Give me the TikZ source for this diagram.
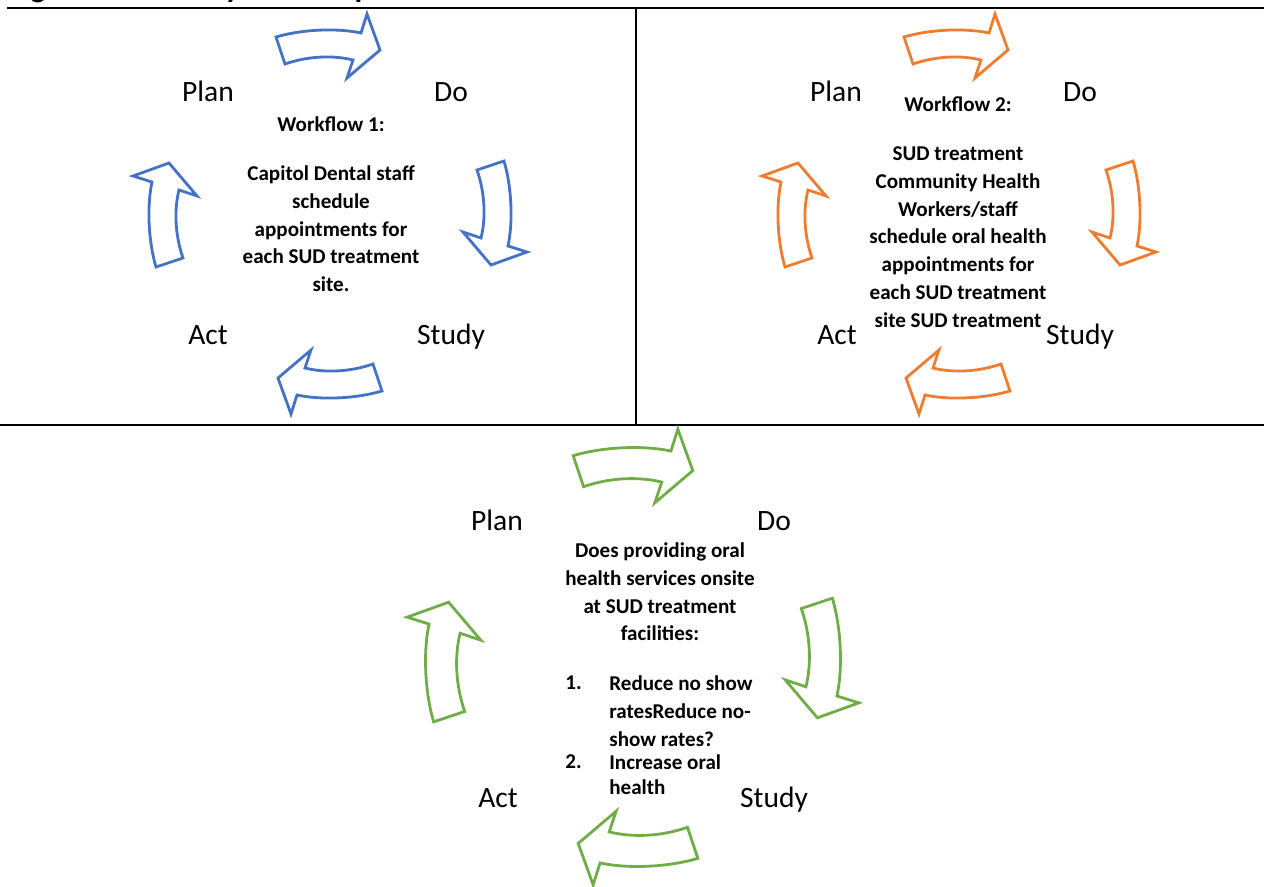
\documentclass[tikz,border=0pt]{standalone}
\usepackage{fontspec}
\setmainfont{Carlito}
\usepackage{tikz}
\usetikzlibrary{positioning}

\definecolor{wfblue}{HTML}{4472C4}
\definecolor{wforange}{HTML}{ED7D31}
\definecolor{wfgreen}{HTML}{70AD47}

% curved block arrow, pointing right, drawn round (0,0)
\tikzset{
	cyclearrow/.pic = {
		\draw[pic actions] (-52,-9) .. controls (-25,-17) and (10,-18) .. (33,-13)
			-- (39,-32) -- (52,4) -- (19,32) -- (25,14)
			.. controls (5,9) and (-20,10) .. (-43,18) -- cycle;
	}
}

\begin{document}
\begin{tikzpicture}
		[x=0.02cm, y=-0.02cm,
		stage/.style	= {font=\fontsize{16.8}{20}\selectfont, inner sep=0pt, anchor=base},
		aim/.style	= {font=\bfseries\fontsize{12}{15.9}\selectfont, align=center, inner sep=0pt, anchor=north},
		item/.style	= {font=\bfseries\fontsize{12}{15.9}\selectfont, align=left, inner sep=0pt, anchor=north west},
		cyc/.style	= {draw=#1, line width=1.6pt, line join=miter},
		gridline/.style	= {line width=1.1pt}]
		
		\useasboundingbox (0,0) rectangle (1264,886);
		
		% caption, cut by the top edge
		\begin{scope}
		\clip (0,0) rectangle (1264,886);
		\node at (8,-3) [anchor=base west, inner sep=0pt, font=\bfseries\fontsize{18}{22}\selectfont] (cap) {Figure 1: PDSA Cycle Example};
		\end{scope}
		
		% table rules
		\draw [gridline] (7,8) -- (1264,8);
		\draw [gridline] (636,8) -- (636,425);
		\draw [gridline] (0,425) -- (1264,425);
		
		% workflow 1
		\pic [cyc=wfblue]			(p1a) at (328,46)	{cyclearrow};
		\pic [cyc=wfblue, rotate=-90]	(p1b) at (495,213)	{cyclearrow};
		\pic [cyc=wfblue, rotate=180]	(p1c) at (330,382)	{cyclearrow};
		\pic [cyc=wfblue, rotate=90]	(p1d) at (165,215)	{cyclearrow};
		
		\node at (208,101)	[stage]	(plan1)		{Plan};
		\node at (451,101)	[stage]	(do1)		{Do};
		\node at (208,344)	[stage]	(act1)		{Act};
		\node at (451,344)	[stage]	(study1)	{Study};
		
		\node at (331,116)	[aim]	(wf1)	{Workflow 1:\\[12pt]
			Capitol Dental staff\\ schedule\\ appointments for\\ each SUD treatment\\ site.};
		
		% workflow 2
		\pic [cyc=wforange]			(p2a) at (956,46)	{cyclearrow};
		\pic [cyc=wforange, rotate=-90]	(p2b) at (1124,213)	{cyclearrow};
		\pic [cyc=wforange, rotate=180]	(p2c) at (958,382)	{cyclearrow};
		\pic [cyc=wforange, rotate=90]	(p2d) at (794,215)	{cyclearrow};
		
		\node at (836,101)	[stage]	(plan2)		{Plan};
		\node at (1080,101)	[stage]	(do2)		{Do};
		\node at (837,344)	[stage]	(act2)		{Act};
		\node at (1080,344)	[stage]	(study2)	{Study};
		
		\node at (958,96)	[aim]	(wf2)	{Workflow 2:\\[12pt]
			SUD treatment\\ Community Health\\ Workers/staff\\ schedule oral health\\ appointments for\\ each SUD treatment\\ site SUD treatment};
		
		% question
		\pic [cyc=wfgreen, scale=1.15]			(p3a) at (633,466)	{cyclearrow};
		\pic [cyc=wfgreen, scale=1.15, rotate=-90]	(p3b) at (822,658)	{cyclearrow};
		\pic [cyc=wfgreen, scale=1.15, rotate=180]	(p3c) at (638,848)	{cyclearrow};
		\pic [cyc=wfgreen, scale=1.15, rotate=90]	(p3d) at (444,662)	{cyclearrow};
		
		\node at (497,530)	[stage]	(plan3)		{Plan};
		\node at (774,530)	[stage]	(do3)		{Do};
		\node at (498,807)	[stage]	(act3)		{Act};
		\node at (774,807)	[stage]	(study3)	{Study};
		
		\node at (660,542)	[aim]	(q)	{Does providing oral\\ health services onsite\\ at SUD treatment\\ facilities:};
		
		\node at (565,675)	[item]	(n1)	{1.};
		\node at (609,675)	[item]	(i1)	{Reduce no show\\ ratesReduce no-\\ show rates?};
		\node at (565,754)	[item]	(n2)	{2.};
		\node at (609,754)	[item, font=\bfseries\fontsize{12}{14.2}\selectfont]	(i2)	{Increase oral\\ health};
		
		\end{tikzpicture}
\end{document}
